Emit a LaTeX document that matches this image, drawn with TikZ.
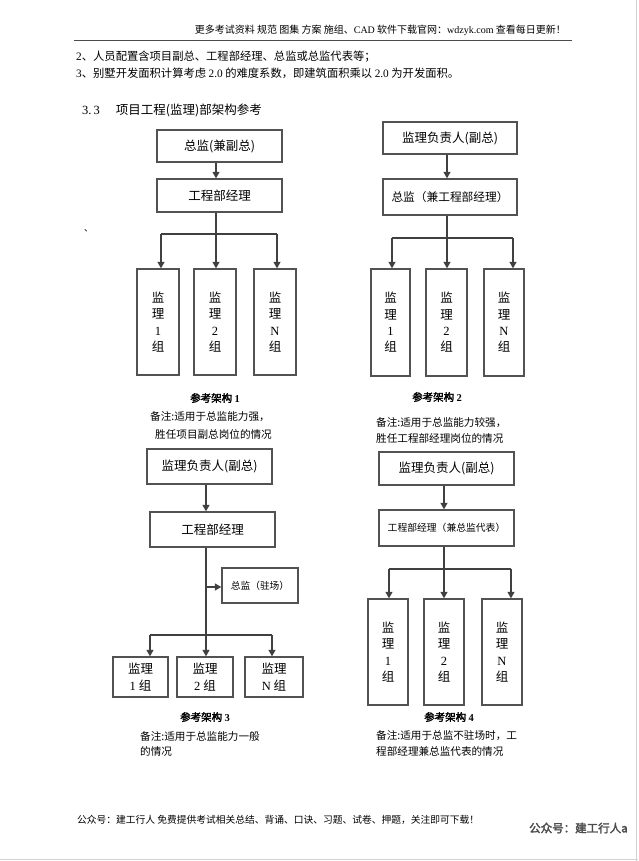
\documentclass[tikz,border=0pt]{standalone}
\usepackage{fontspec}
\setmainfont{Liberation Serif}
\newfontfamily\cjk{Noto Sans CJK SC}
\newfontfamily\cjkb[FakeBold=2.5]{Noto Sans CJK SC}
\usetikzlibrary{arrows.meta}
\begin{document}
\begin{tikzpicture}[x=1pt,y=-1pt,
  box/.style={draw=black!68, line width=1.35pt, inner sep=0pt, align=center, font=\fontsize{12.5}{14}\cjk},
  grp/.style={box, font=\fontsize{12.5}{16.3}\cjk},
  arr/.style={draw=black!75, line width=1.2pt, -{Triangle[length=6.5pt,width=7pt]}},
  ln/.style={draw=black!75, line width=1.2pt},
  capt/.style={font=\fontsize{10.5}{13}\cjkb, inner sep=0pt},
  note/.style={font=\fontsize{10.6}{13}\cjk, inner sep=0pt, anchor=west},
  txt/.style={inner sep=0pt, anchor=west, font=\fontsize{11.3}{13}\cjk}]
\useasboundingbox[fill=white] (0,0) rectangle (638,861);
\draw[gray!35, line width=1pt] (636.5,0) -- (636.5,861);
\draw[gray!35, line width=1pt] (0,859) -- (638,859);

% header
\node[anchor=east, inner sep=0pt, font=\fontsize{10}{11}\cjk] (hd) at (566,30) {更多考试资料 规范 图集 方案 施组、{\rmfamily CAD} 软件下载官网：{\rmfamily wdzyk.com} 查看每日更新！};
\draw[black!70, line width=1.3pt] (74,40.5) -- (572,40.5);
\node[txt] (l2) at (76,57) {{\rmfamily 2}、人员配置含项目副总、工程部经理、总监或总监代表等；};
\node[txt] (l3) at (76,73) {{\rmfamily 3}、别墅开发面积计算考虑 {\rmfamily 2.0} 的难度系数，即建筑面积乘以 {\rmfamily 2.0} 为开发面积。};
\node[txt, font=\fontsize{12.5}{14}\cjk] (sec) at (82,110) {{\rmfamily 3.\,3}\hspace{16pt}项目工程(监理)部架构参考};
\node[txt, font=\fontsize{9}{10}\cjk] (dot) at (84,231) {、};

% ---------- architecture 1
\node[box, minimum width=125, minimum height=32] (a1) at (219.5,146) {总监(兼副总)};
\node[box, minimum width=125, minimum height=33] (b1) at (219.5,195.5) {工程部经理};
\node[grp, minimum width=42, minimum height=106] (g11) at (158,322) {监\\理\\{\rmfamily 1}\\组};
\node[grp, minimum width=42, minimum height=106] (g12) at (215,322) {监\\理\\{\rmfamily 2}\\组};
\node[grp, minimum width=42, minimum height=106] (g1n) at (275,322) {监\\理\\{\rmfamily N}\\组};
\coordinate (t1) at (216,234);
\coordinate (l1) at (161,234);
\coordinate (r1) at (277,234);
\draw[arr] (a1.south -| t1) -- (b1.north -| t1);
\draw[ln] (b1.south -| t1) -- (t1);
\draw[ln] (l1) -- (r1);
\draw[arr] (l1) -- (l1 |- g11.north);
\draw[arr] (t1) -- (t1 |- g12.north);
\draw[arr] (r1) -- (r1 |- g1n.north);
\node[capt] (c1) at (215,398) {参考架构 {\rmfamily\bfseries 1}};
\node[note] (n1a) at (150,417) {备注:适用于总监能力强，};
\node[note] (n1b) at (155,434) {胜任项目副总岗位的情况};

% ---------- architecture 2
\node[box, minimum width=134, minimum height=32] (a2) at (450,138) {监理负责人(副总)};
\node[box, minimum width=134, minimum height=36, font=\fontsize{11.7}{14}\cjk] (b2) at (450,197) {总监（兼工程部经理）};
\node[grp, minimum width=39, minimum height=107] (g21) at (390.5,322.5) {监\\理\\{\rmfamily 1}\\组};
\node[grp, minimum width=41, minimum height=107] (g22) at (446.5,322.5) {监\\理\\{\rmfamily 2}\\组};
\node[grp, minimum width=40, minimum height=107] (g2n) at (504,322.5) {监\\理\\{\rmfamily N}\\组};
\coordinate (t2) at (447,238);
\coordinate (l2c) at (392,238);
\coordinate (r2) at (513,238);
\draw[arr] (a2.south -| t2) -- (b2.north -| t2);
\draw[ln] (b2.south -| t2) -- (t2);
\draw[ln] (l2c) -- (r2);
\draw[arr] (l2c) -- (l2c |- g21.north);
\draw[arr] (t2) -- (t2 |- g22.north);
\draw[arr] (r2) -- (r2 |- g2n.north);
\node[capt] (c2) at (437,397) {参考架构 {\rmfamily\bfseries 2}};
\node[note] (n2a) at (376,423) {备注:适用于总监能力较强，};
\node[note] (n2b) at (376,438) {胜任工程部经理岗位的情况};

% ---------- architecture 3
\node[box, minimum width=125, minimum height=35] (a3) at (209.5,466.5) {监理负责人(副总)};
\node[box, minimum width=125, minimum height=35] (b3) at (212.5,529.5) {工程部经理};
\node[box, minimum width=76, minimum height=35, font=\fontsize{9.7}{12}\cjk] (z3) at (260,585.5) {总监（驻场）};
\node[grp, minimum width=55, minimum height=40] (g31) at (140.5,677) {监理\\{\rmfamily 1} 组};
\node[grp, minimum width=56, minimum height=40] (g32) at (205,677) {监理\\{\rmfamily 2} 组};
\node[grp, minimum width=58, minimum height=40] (g3n) at (274,677) {监理\\{\rmfamily N} 组};
\coordinate (t3) at (206,635);
\coordinate (l3c) at (150,635);
\coordinate (r3) at (272,635);
\coordinate (m3) at (206,587);
\draw[arr] (a3.south -| t3) -- (b3.north -| t3);
\draw[ln] (b3.south -| t3) -- (t3);
\draw[arr] (m3) -- (z3.west |- m3);
\draw[ln] (l3c) -- (r3);
\draw[arr] (l3c) -- (l3c |- g31.north);
\draw[arr] (t3) -- (t3 |- g32.north);
\draw[arr] (r3) -- (r3 |- g3n.north);
\node[capt] (c3) at (205,717) {参考架构 {\rmfamily\bfseries 3}};
\node[note] (n3a) at (140,736) {备注:适用于总监能力一般};
\node[note] (n3b) at (140,751) {的情况};

% ---------- architecture 4
\node[box, minimum width=135, minimum height=33] (a4) at (446.5,468.5) {监理负责人(副总)};
\node[box, minimum width=135, minimum height=36, font=\fontsize{9.8}{12}\cjk] (b4) at (446.5,528) {工程部经理（兼总监代表）};
\node[grp, minimum width=40, minimum height=106] (g41) at (388,652) {监\\理\\{\rmfamily 1}\\组};
\node[grp, minimum width=40, minimum height=106] (g42) at (444,652) {监\\理\\{\rmfamily 2}\\组};
\node[grp, minimum width=40, minimum height=106] (g4n) at (502,652) {监\\理\\{\rmfamily N}\\组};
\coordinate (t4) at (444,569);
\coordinate (l4) at (389,569);
\coordinate (r4) at (511,569);
\draw[arr] (a4.south -| t4) -- (b4.north -| t4);
\draw[ln] (b4.south -| t4) -- (t4);
\draw[ln] (l4) -- (r4);
\draw[arr] (l4) -- (l4 |- g41.north);
\draw[arr] (t4) -- (t4 |- g42.north);
\draw[arr] (r4) -- (r4 |- g4n.north);
\node[capt] (c4) at (449,717) {参考架构 {\rmfamily\bfseries 4}};
\node[note] (n4a) at (376,736) {备注:适用于总监不驻场时，工};
\node[note] (n4b) at (376,751) {程部经理兼总监代表的情况};

% footer
\node[txt, font=\fontsize{9.75}{11}\cjk] (ft) at (77,820) {公众号：建工行人 免费提供考试相关总结、背诵、口诀、习题、试卷、押题，关注即可下载！};
\node[txt, font=\fontsize{11.5}{13}\cjkb, text=black!70] (wm) at (529,828) {公众号：建工行人a};
\end{tikzpicture}
\end{document}
